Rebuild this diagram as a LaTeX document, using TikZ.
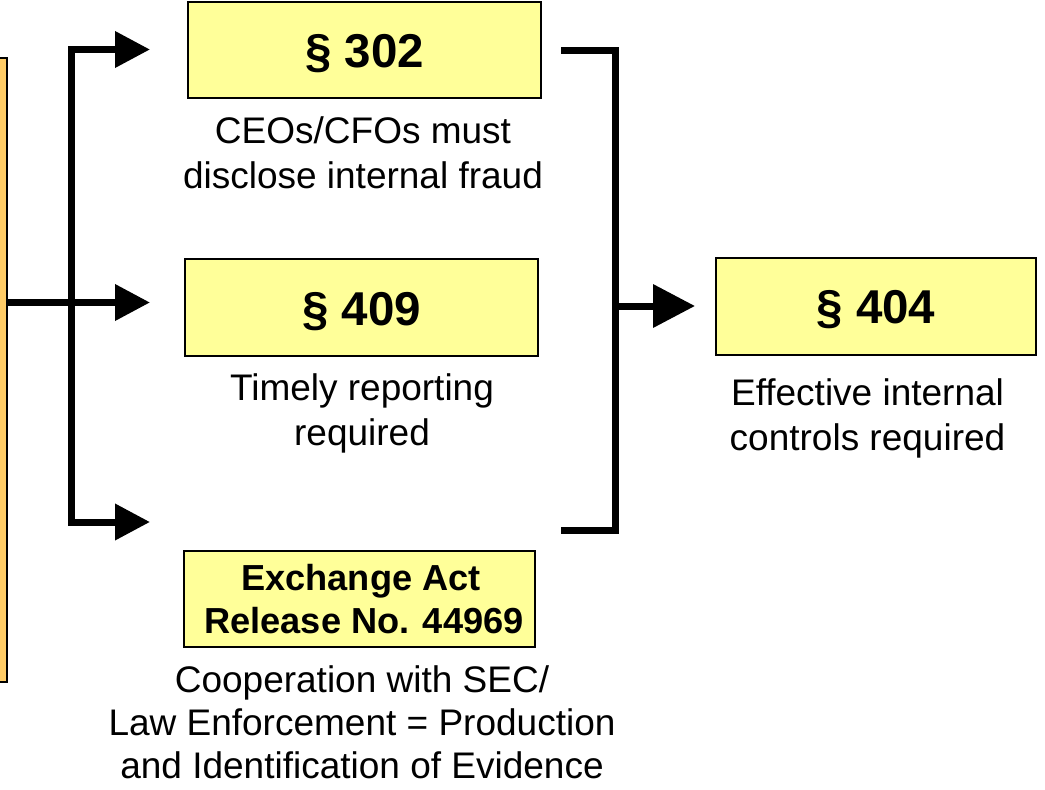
\documentclass[tikz,border=0pt]{standalone}
\usepackage{fontspec}
\setmainfont{Liberation Sans}
\usetikzlibrary{arrows.meta}
\definecolor{boxyellow}{HTML}{FFFF99}
\definecolor{boxorange}{HTML}{FFCC66}
\begin{document}
\begin{tikzpicture}[x=1pt,y=-1pt,
  secbox/.style={draw=black,line width=1.6pt,fill=boxyellow,inner sep=0pt,anchor=center},
  sidebox/.style={draw=black,line width=1.2pt,fill=boxorange,inner sep=0pt},
  conn/.style={line width=7pt,line join=miter,line cap=butt},
  smallhead/.style={-{Triangle[length=35pt,width=35pt]}},
  bighead/.style={-{Triangle[length=42pt,width=42pt]}},
  sectxt/.style={font=\fontsize{47.5}{50}\selectfont\bfseries,anchor=base,inner sep=0pt},
  boldtxt/.style={font=\fontsize{36.2}{43}\selectfont\bfseries,anchor=base,inner sep=0pt},
  captxt/.style={font=\fontsize{37}{43}\selectfont,anchor=base,inner sep=0pt}]
\useasboundingbox (0,0) rectangle (1045,790);

% left (cut off) orange box
\node[sidebox,minimum width=30pt,minimum height=624pt] (side) at (-8,370) {};

% section boxes
\node[secbox,minimum width=353pt,minimum height=96pt] (b302) at (364.5,50) {};
\node[secbox,minimum width=353pt,minimum height=97pt] (b409) at (361.5,307.5) {};
\node[secbox,minimum width=351pt,minimum height=96pt] (bex) at (359.5,599) {};
\node[secbox,minimum width=320pt,minimum height=97pt] (b404) at (876,306.5) {};

% box texts
\node[sectxt] (t302) at (364.5,67) {§ 302};
\node[sectxt] (t409) at (361.5,325) {§ 409};
\node[sectxt] (t404) at (876,323) {§ 404};
\node[boldtxt] (tex1) at (361,590) {Exchange Act};
\node[boldtxt] (tex2) at (364,633) {Release No. 44969};

% captions
\node[captxt] (c1a) at (363,143) {CEOs/CFOs must};
\node[captxt] (c1b) at (363,188) {disclose internal fraud};
\node[captxt] (c2a) at (362,400) {Timely reporting};
\node[captxt] (c2b) at (362,445) {required};
\node[captxt] (c3a) at (867.5,405) {Effective internal};
\node[captxt] (c3b) at (867.5,450) {controls required};
\node[captxt] (c4a) at (362,692) {Cooperation with SEC/};
\node[captxt] (c4b) at (362,735) {Law Enforcement = Production};
\node[captxt] (c4c) at (362,778) {and Identification of Evidence};

% left connector tree
\coordinate (tip1) at (150,49.5);
\coordinate (tip2) at (150,302.5);
\coordinate (tip3) at (150,522);
\coordinate (trunkTop) at (71.5,49.5);
\coordinate (trunkBot) at (71.5,522);
\draw[conn,{Triangle[length=35pt,width=35pt]}-{Triangle[length=35pt,width=35pt]}]
  (tip1) -- (trunkTop) -- (trunkBot) -- (tip3);
\draw[conn,smallhead] (side.east |- tip2) -- (tip2);

% right bracket
\coordinate (brTopL) at (561,50.5);
\coordinate (brTopR) at (615.5,50.5);
\coordinate (brBotR) at (615.5,530);
\coordinate (brBotL) at (561,530);
\coordinate (brMid) at (615.5,306);
\coordinate (tip4) at (695,306);
\draw[conn] (brTopL) -- (brTopR) -- (brBotR) -- (brBotL);
\draw[conn,bighead] (brMid) -- (tip4);
\end{tikzpicture}
\end{document}
